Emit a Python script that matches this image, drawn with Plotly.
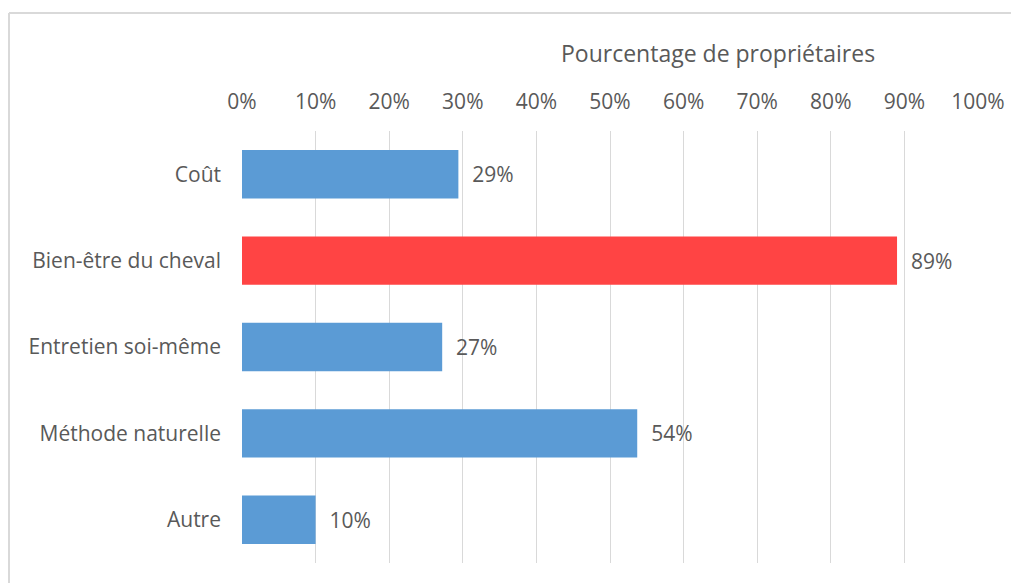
import plotly.graph_objects as go

# data
categories = ["Coût", "Bien-être du cheval", "Entretien soi-même", "Méthode naturelle", "Autre"]
shares = [0.294, 0.89, 0.272, 0.537, 0.10]
bar_colors = ["#5B9BD5", "#FF4444", "#5B9BD5", "#5B9BD5", "#5B9BD5"]
x_ticks = [i / 10 for i in range(11)]
x_title = "Pourcentage de propriétaires"

grey_text = "#595959"
grid_grey = "#D9D9D9"
font_family = "Open Sans, sans-serif"

fig = go.Figure()
fig.add_trace(go.Bar(
    y=categories,
    x=shares,
    orientation="h",
    width=0.56,
    marker=dict(color=bar_colors, line=dict(width=0)),
    texttemplate="  %{x:.0%}",
    textposition="outside",
    textfont=dict(size=21, color=grey_text, family=font_family),
    cliponaxis=False,
    hoverinfo="skip",
))

# page body adds an 8px offset, so the figure is sized/margined to compensate
fig.update_layout(
    width=1011,
    height=575,
    margin=dict(l=234, r=41, t=123, b=20),
    paper_bgcolor="white",
    plot_bgcolor="white",
    showlegend=False,
    font=dict(family=font_family, color=grey_text, size=21),
    xaxis=dict(
        side="top",
        range=[0, 1],
        tickvals=x_ticks,
        tickformat=".0%",
        showgrid=True,
        gridcolor=grid_grey,
        gridwidth=1,
        zeroline=False,
        showline=False,
        ticks="",
        ticklabelstandoff=17,
        tickfont=dict(size=21, color=grey_text),
        fixedrange=True,
    ),
    yaxis=dict(
        autorange="reversed",
        showgrid=False,
        zeroline=False,
        showline=False,
        ticks="",
        ticklabelstandoff=20,
        tickfont=dict(size=21, color=grey_text),
        fixedrange=True,
    ),
    annotations=[dict(
        text=x_title,
        xref="paper", yref="paper",
        x=0.647, y=1.18,
        xanchor="center", yanchor="middle",
        showarrow=False,
        font=dict(size=23, color=grey_text, family=font_family),
    )],
    shapes=[
        # chart frame (left and top edges visible in the reference)
        dict(type="line", xref="paper", yref="paper", x0=-0.3166, x1=-0.3166, y0=-0.08, y1=1.273,
             line=dict(color=grid_grey, width=2)),
        dict(type="line", xref="paper", yref="paper", x0=-0.3166, x1=1.08, y0=1.273, y1=1.273,
             line=dict(color=grid_grey, width=2)),
    ],
)

fig.write_html("out.html")
